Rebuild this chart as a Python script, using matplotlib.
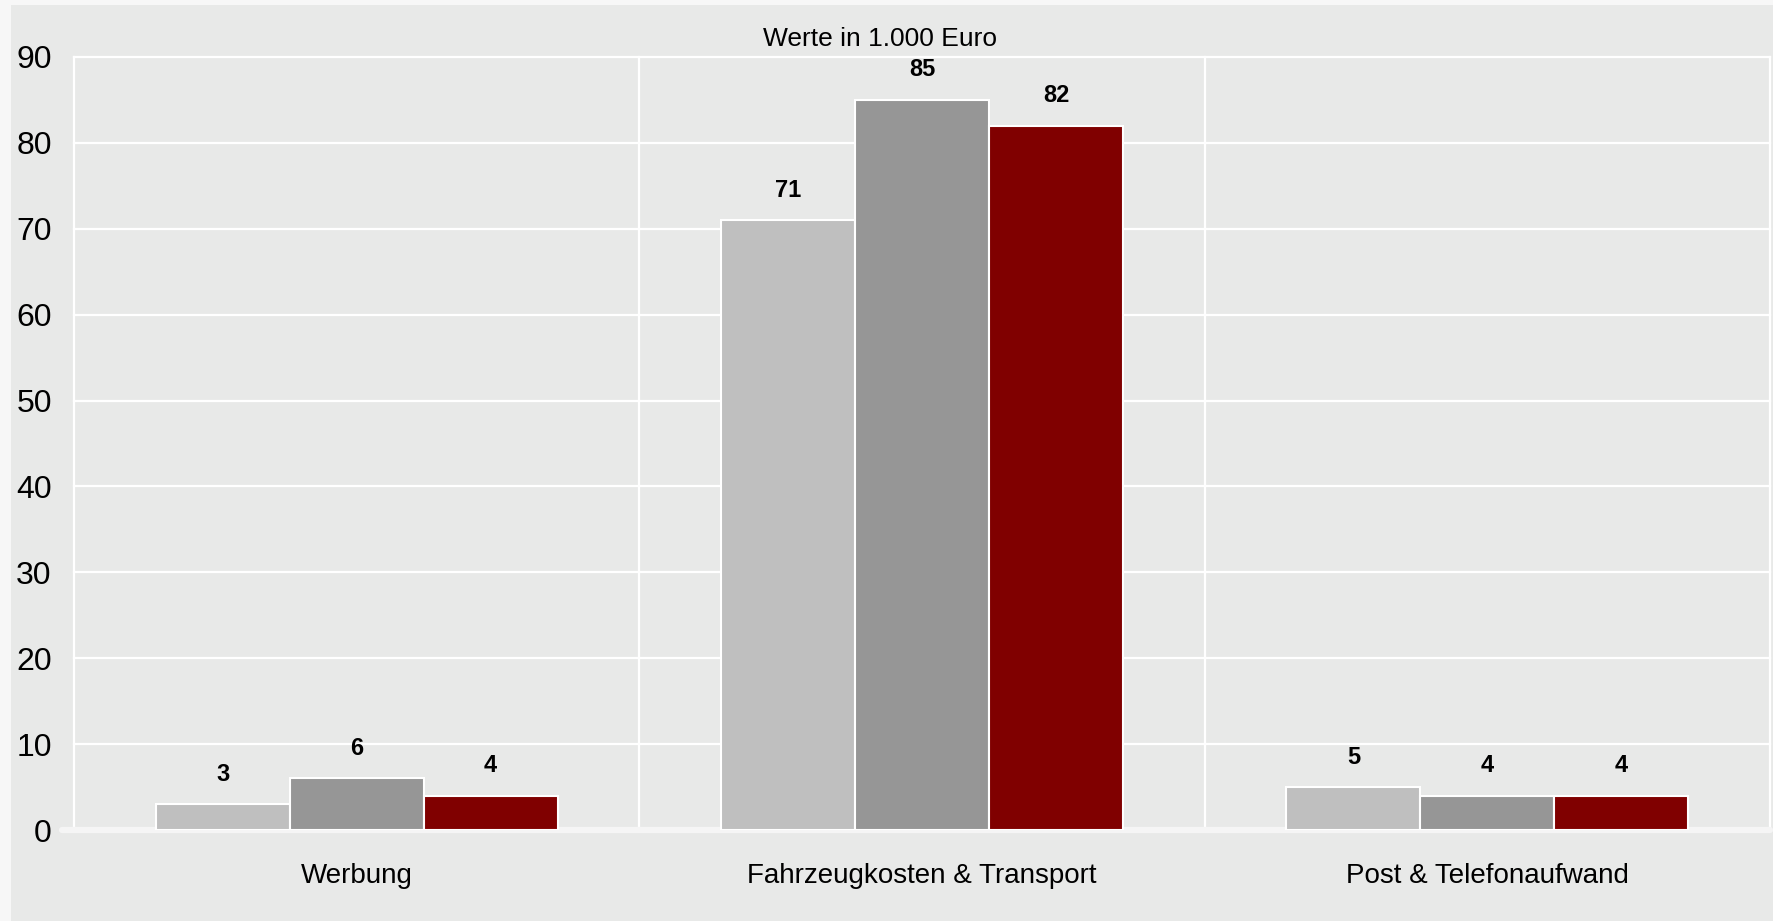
import matplotlib
matplotlib.use("Agg")
import matplotlib.pyplot as plt
import matplotlib.patches as mpatches
import numpy as np

# --- data (values in 1.000 Euro) ---
categories = ["Werbung", "Fahrzeugkosten & Transport", "Post & Telefonaufwand"]
series_a = [3, 71, 5]
series_b = [6, 85, 4]
series_c = [4, 82, 4]
y_ticks = [0, 10, 20, 30, 40, 50, 60, 70, 80, 90]
title = "Werte in 1.000 Euro"

colors = ["#bfbfbf", "#969696", "#800000"]
panel_bg = "#e8e9e8"

plt.rcParams["font.family"] = ["Liberation Sans", "DejaVu Sans"]

fig = plt.figure(figsize=(17.73, 9.21), dpi=100)
fig.patch.set_facecolor("#f7f7f7")

# grey panel behind the chart
fig.patches.append(mpatches.Rectangle(
    (11 / 1773, 0), 1 - 11 / 1773, 1 - 5 / 921,
    transform=fig.transFigure, facecolor=panel_bg, edgecolor="none", zorder=-10,
))

ax = fig.add_axes([74 / 1773, 1 - 830 / 921, (1770 - 74) / 1773, (830 - 57) / 921])
ax.set_zorder(1)
ax.set_facecolor(panel_bg)

x = np.arange(len(categories))
width = 0.237
for i, (vals, col) in enumerate(zip([series_a, series_b, series_c], colors)):
    bars = ax.bar(x + (i - 1) * width, vals, width=width, color=col,
                  edgecolor="white", linewidth=1.5, zorder=3)
    for b, v in zip(bars, vals):
        ax.annotate(f"{v}", (b.get_x() + b.get_width() / 2, v),
                    xytext=(0, 30), textcoords="offset pixels",
                    ha="center", va="center", fontsize=17, fontweight="bold",
                    color="black", zorder=4)

ax.set_xlim(-0.5, 2.5)
ax.set_ylim(0, 90)
ax.set_yticks(y_ticks)
ax.set_xticks(x)
ax.set_xticklabels(categories)

# gridlines: horizontal at ticks, vertical at category boundaries
for yv in y_ticks[1:]:
    ax.axhline(yv, color="white", linewidth=1.6, zorder=1, clip_on=False)
for xv in [-0.5, 0.5, 1.5, 2.5]:
    ax.axvline(xv, color="white", linewidth=1.6, zorder=1, clip_on=False)

# thick light baseline at zero
ax.axhline(0, xmin=-0.007, xmax=1.0, color="#f5f5f5", linewidth=4.5,
           zorder=2, clip_on=False, solid_capstyle="round")

for s in ax.spines.values():
    s.set_visible(False)

ax.tick_params(axis="y", length=0, pad=16, labelsize=23, colors="black")
ax.tick_params(axis="x", length=0, pad=24, labelsize=20, colors="black")

fig.text(880 / 1773, 1 - 39 / 921, title, ha="center", va="center",
         fontsize=19, color="black")

fig.savefig("out.png", dpi=100, facecolor=fig.get_facecolor())
